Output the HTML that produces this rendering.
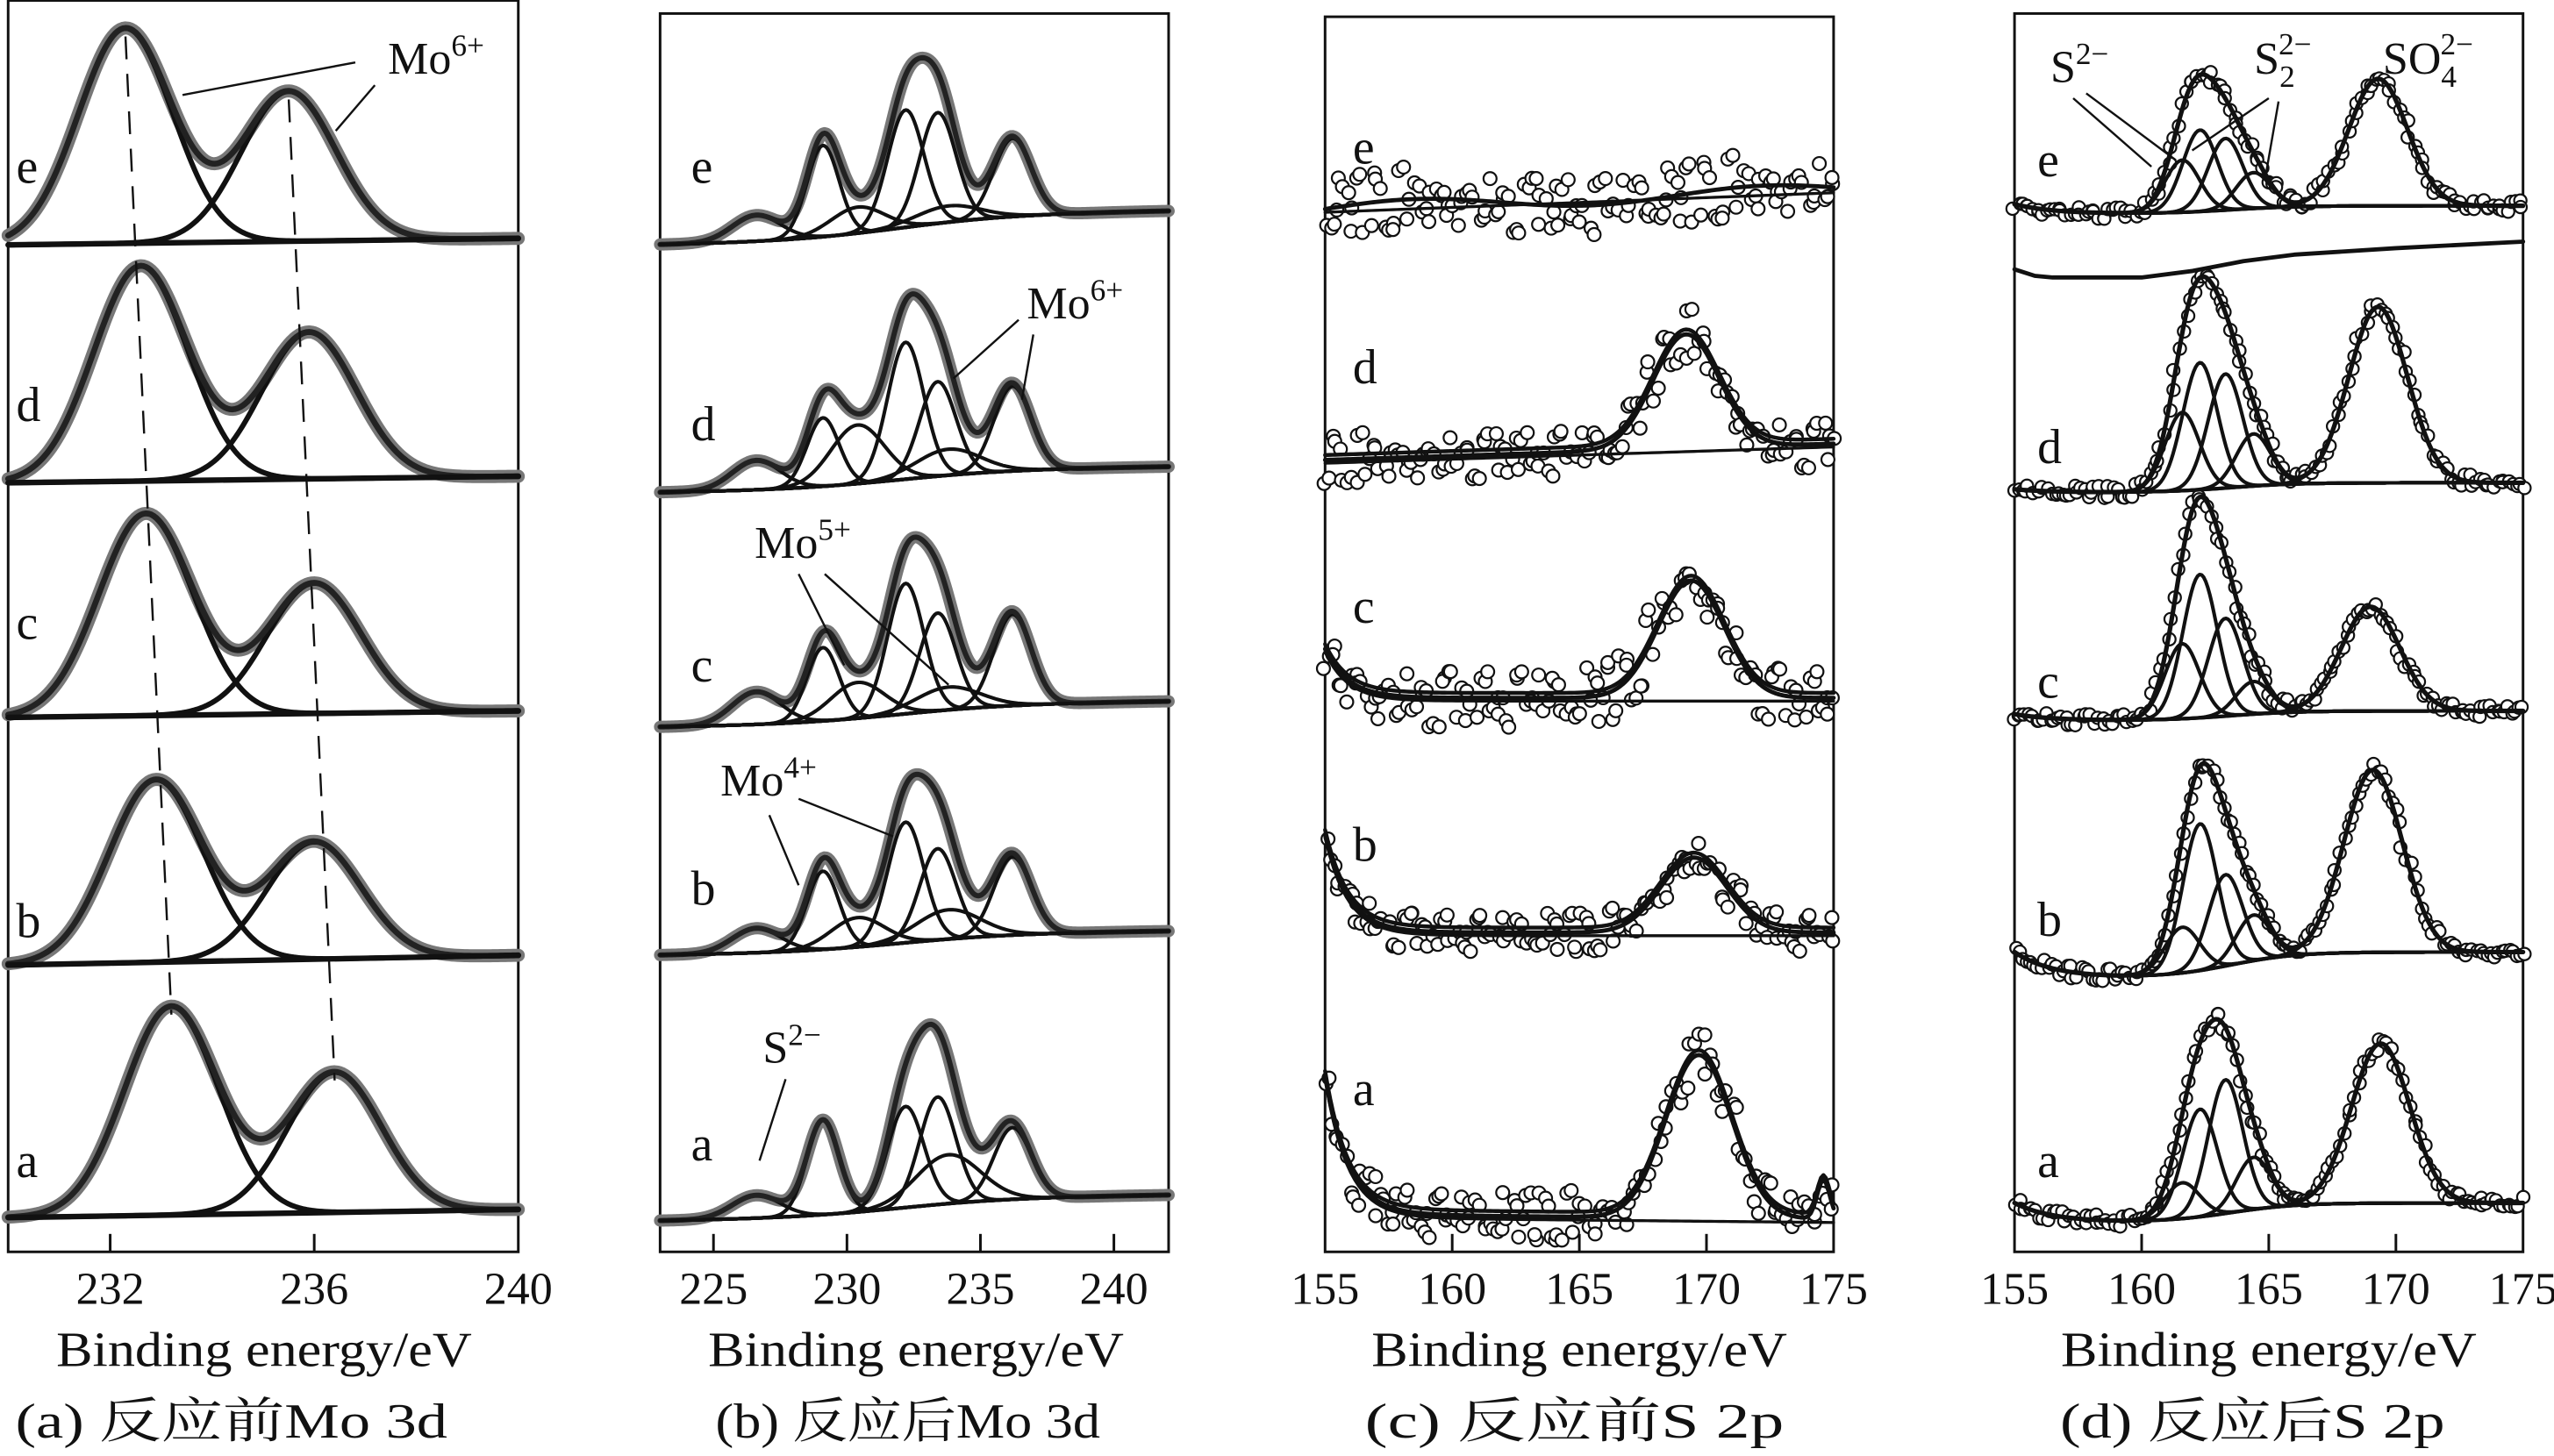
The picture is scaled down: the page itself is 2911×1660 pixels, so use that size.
<!DOCTYPE html>
<html><head><meta charset="utf-8">
<style>
html,body{margin:0;padding:0;background:#fff;}
svg{display:block;}
text{font-family:"Liberation Serif","Noto Serif CJK SC",serif;fill:#111;}
</style></head>
<body>
<svg id="fig" xmlns="http://www.w3.org/2000/svg" width="2911" height="1660" viewBox="0 0 1567 893"></svg>
<script>
// ---------- data ----------
const rowLabels = ['a','b','c','d','e'];
// Panel (a) Mo 3d before reaction
const aPeak1Pos = [233.2, 232.9, 232.7, 232.6, 232.3];
const aPeak2Pos = [236.4, 236.0, 236.0, 235.9, 235.5];
const aPeak1H = [128, 112, 124, 132, 132];
const aPeak2H = [86, 72, 80, 90, 92];
const aBaseL = [747, 592, 440, 296, 150];
const aBaseR = [742, 586, 436, 292, 146];
const aTicks = [232, 236, 240];
// Panel (b) Mo 3d after reaction
const bCenters = [226.6, 229.1, 230.4, 232.2, 233.4, 233.8, 236.2];
const bSigmas = [0.9, 0.6, 1.0, 0.68, 0.68, 1.2, 0.7];
const bHeightsA = [14, 58, 0, 62, 66, 30, 44];
const bHeightsB = [15, 48, 18, 74, 56, 18, 48];
const bHeightsC = [20, 45, 22, 80, 60, 14, 56];
const bHeightsD = [18, 42, 36, 84, 58, 16, 52];
const bHeightsE = [16, 56, 16, 72, 68, 10, 48];
const bBaseL = [749, 586, 446, 302, 150];
const bBaseR = [733, 571, 430, 286, 129];
const bTicks = [225, 230, 235, 240];
// Panel (c) S 2p before reaction
const cPeakPos = [169.7, 169.5, 169.4, 169.2, 165.0];
const cPeakH = [100, 46, 72, 70, 0];
const cBase = [745, 572, 428, 282, 128];
const cTilt = [3, 0, 0, -10, -12];
const cLeftRise = [85, 60, 30, 0, 0];
const cNoiseAmp = [16, 13, 20, 16, 20];
const cSmallPeakH = [24, 0, 0, 0, 0];
const noise = [0.3,-0.8,0.5,0.1,-0.4,0.9,-0.2,-0.7,0.6,0.0,-0.5,0.8,-0.9,0.2,0.4,-0.3,0.7,-0.6,0.1,-1.0,0.5,0.3,-0.2,0.9,-0.4,-0.8,0.6,0.2,-0.1,0.7,-0.6,0.4,-0.9,0.0,0.8,-0.3,0.2,-0.7,0.5,0.9,-0.5,0.1,-0.2,0.6,-0.8,0.3,0.7,-0.4,-0.1,0.9,-0.6,0.2,0.5,-0.9,0.4,-0.2,0.8,-0.5,0.0,0.6,-0.7,0.3,-0.3,0.9,-0.8,0.1,0.5,-0.4,0.7,-0.1,-0.6,0.4,0.2,-0.9,0.8,-0.2,0.6,-0.5,0.3,-0.7,0.1,0.9,-0.3,0.5,-0.8,0.0,0.4,-0.6,0.7,-0.1];
const cTicks = [155, 160, 165, 170, 175];
// Panel (d) S 2p after reaction
const dCenters = [161.6, 162.3, 163.3, 164.4];
const dHeightsA = [22, 66, 82, 32];
const dHeightsB = [28, 90, 56, 28];
const dHeightsC = [46, 88, 60, 20];
const dHeightsD = [48, 78, 70, 32];
const dHeightsE = [32, 50, 44, 22];
const dSO4Pos = [169.4, 169.1, 169.0, 169.3, 169.3];
const dSO4H = [98, 112, 64, 108, 78];
const dBase = [750, 600, 442, 302, 131];
const dStep = [-12, -16, -6, -6, -5];
const dLeftRise = [12, 16, 4, 2, 6];
const dStrayE = [155, 155.8, 156.5, 160, 162, 164, 166, 170, 175];
const dStrayY = [165, 169, 170, 170, 166, 160, 156, 152, 148];
const dTicks = [155, 160, 165, 170, 175];

// ---------- helpers ----------
const svg = document.getElementById('fig');
const NS = 'http://www.w3.org/2000/svg';
function mk(tag, attrs, parent) {
  const el = document.createElementNS(NS, tag);
  for (const k in attrs) el.setAttribute(k, attrs[k]);
  (parent || svg).appendChild(el);
  return el;
}
function gauss(x, c, h, s) { return h * Math.exp(-(x - c) * (x - c) / (2 * s * s)); }
const panels = [
  {x0: 5, x1: 318, y0: 0, y1: 768, d0: 230, d1: 240},
  {x0: 405, x1: 717, y0: 8, y1: 768, d0: 223, d1: 242.05},
  {x0: 813, x1: 1125, y0: 10, y1: 768, d0: 155, d1: 175},
  {x0: 1236, x1: 1548, y0: 8, y1: 768, d0: 155, d1: 175}
];
function xs(p, e) { return p.x0 + (e - p.d0) / (p.d1 - p.d0) * (p.x1 - p.x0); }
function yv(base, v) { return base - v; }
function pathFrom(p, fn, n) {
  let d = '';
  for (let i = 0; i <= n; i++) {
    const e = p.d0 + (p.d1 - p.d0) * i / n;
    d += (i ? 'L' : 'M') + xs(p, e).toFixed(2) + ',' + fn(e).toFixed(2);
  }
  return d;
}
function line(g, x1, y1, x2, y2, w) {
  const l = mk('line', {x1: x1, y1: y1, x2: x2, y2: y2, stroke: '#111', 'stroke-width': w || 1.2}, g);
  return l;
}
function drawFrame(p, g, ticks, name) {
  const r = mk('rect', {x: p.x0, y: p.y0, width: p.x1 - p.x0, height: p.y1 - p.y0, fill: 'none', stroke: '#111', 'stroke-width': 1.6}, g);
  
  
  ticks.forEach(t => {
    const x = xs(p, t);
    if (x > p.x0 + 2 && x < p.x1 - 2) {
      const tk = line(g, x, p.y1, x, p.y1 - 11, 1.6);
      
      
    }
    const tl = mk('text', {x: x, y: 800, 'font-size': 28, 'text-anchor': 'middle'}, g);
    tl.textContent = t;
    
    
  });
}
function addText(g, x, y, str, size, name, anchor, len) {
  const t = mk('text', {x: x, y: y, 'font-size': size, 'text-anchor': anchor || 'start'}, g);
  if (len) { t.setAttribute('textLength', len); t.setAttribute('lengthAdjust', 'spacingAndGlyphs'); }
  t.textContent = str;
  
  
  return t;
}
function ion(g, x, y, base, sub, sup, name) {
  const t = mk('text', {x: x, y: y, 'font-size': 28}, g);
  
  
  const a = mk('tspan', {}, t); a.textContent = base;
  if (sub) {
    const s = mk('tspan', {'font-size': 19, dy: 8}, t); s.textContent = sub;
    const u = mk('tspan', {'font-size': 19, dx: -10, dy: -20}, t); u.textContent = sup;
  } else {
    const u = mk('tspan', {'font-size': 19, dy: -11}, t); u.textContent = sup;
  }
}
function curve(g, d, w, color, name) {
  const c = mk('path', {d: d, fill: 'none', stroke: color || '#111', 'stroke-width': w, 'stroke-linejoin': 'round', 'stroke-linecap': 'round'}, g);
  
  
  return c;
}
function sig(z) { return 1 / (1 + Math.exp(-z)); }

// ---------- panel a ----------
(function () {
  const p = panels[0];
  const g = mk('g', {});
  
  
  drawFrame(p, g, aTicks, 'panel-a');
  const peak1Pts = [], peak2Pts = [];
  for (let r = 0; r < 5; r++) {
    const bl = e => aBaseL[r] + (aBaseR[r] - aBaseL[r]) * (e - p.d0) / (p.d1 - p.d0);
    const env = e => yv(bl(e), gauss(e, aPeak1Pos[r], aPeak1H[r], 0.92) + gauss(e, aPeak2Pos[r], aPeak2H[r], 0.92));
    curve(g, pathFrom(p, env, 200), 8, '#777', 'envelope-data-' + rowLabels[r]);
    curve(g, pathFrom(p, e => yv(bl(e), gauss(e, aPeak1Pos[r], aPeak1H[r], 0.92)), 200), 3.2, '#111', 'mo-3d52-component-' + rowLabels[r]);
    curve(g, pathFrom(p, e => yv(bl(e), gauss(e, aPeak2Pos[r], aPeak2H[r], 0.92)), 200), 3.2, '#111', 'mo-3d32-component-' + rowLabels[r]);
    curve(g, pathFrom(p, env, 200), 3.6, '#222', 'envelope-fit-' + rowLabels[r]);
    curve(g, pathFrom(p, e => bl(e), 10), 3.4, '#111', 'baseline-' + rowLabels[r]);
    peak1Pts.push([xs(p, aPeak1Pos[r]), bl(aPeak1Pos[r]) - aPeak1H[r]]);
    peak2Pts.push([xs(p, aPeak2Pos[r]), bl(aPeak2Pos[r]) - aPeak2H[r]]);
    const ly = [722, 575, 392, 258, 112][r];
    addText(g, 10, ly, rowLabels[r], 30, 'row-label-' + rowLabels[r]);
  }
  [peak1Pts, peak2Pts].forEach((pts, k) => {
    const d = 'M' + pts[4][0] + ',' + (pts[4][1] + 5) + 'L' + pts[0][0] + ',' + (pts[0][1] + 5);
    const dl = mk('path', {d: d, fill: 'none', stroke: '#111', 'stroke-width': 1.3, 'stroke-dasharray': '14,9'}, g);
    
    
  });
  line(g, 218, 38, 112, 58, 1.3);
  line(g, 230, 52, 206, 80, 1.3);
  ion(g, 238, 45, 'Mo', null, '6+', 'mo6-annotation');
  addText(g, 162, 838, 'Binding energy/eV', 30, 'x-axis-title-a', 'middle', 255);
  addText(g, 142, 882, '(a) 反应前Mo 3d', 30, 'caption-a', 'middle', 265);
})();

// ---------- panel b ----------
(function () {
  const p = panels[1];
  const g = mk('g', {});
  
  
  drawFrame(p, g, bTicks, 'panel-b');
  const H = [bHeightsA, bHeightsB, bHeightsC, bHeightsD, bHeightsE];
  for (let r = 0; r < 5; r++) {
    const bl = e => bBaseL[r] + (bBaseR[r] - bBaseL[r]) * (0.25 * (e - p.d0) / (p.d1 - p.d0) + 0.75 * sig((e - 232) / 2.2));
    const comp = (e, k) => gauss(e, bCenters[k], H[r][k], bSigmas[k]);
    const env = e => { let s = 0; for (let k = 0; k < bCenters.length; k++) s += comp(e, k); return yv(bl(e), s); };
    curve(g, pathFrom(p, env, 300), 7.5, '#777', 'envelope-data-' + rowLabels[r]);
    for (let k = 0; k < bCenters.length; k++) {
      if (H[r][k] <= 0) continue;
      curve(g, pathFrom(p, e => yv(bl(e), comp(e, k)), 300), 2.2, '#111', 'component-' + bCenters[k] + '-' + rowLabels[r]);
    }
    curve(g, pathFrom(p, env, 300), 3.2, '#222', 'envelope-fit-' + rowLabels[r]);
    curve(g, pathFrom(p, e => bl(e), 60), 2.2, '#111', 'baseline-' + rowLabels[r]);
    const ly = [712, 555, 418, 270, 112][r];
    addText(g, 424, ly, rowLabels[r], 30, 'row-label-' + rowLabels[r]);
  }
  line(g, 625, 196, 585, 232, 1.3); line(g, 634, 205, 627, 245, 1.3);
  ion(g, 630, 195, 'Mo', null, '6+', 'mo6-annotation-b');
  line(g, 490, 352, 518, 408, 1.3); line(g, 506, 352, 582, 420, 1.3);
  ion(g, 463, 342, 'Mo', null, '5+', 'mo5-annotation');
  line(g, 472, 500, 490, 543, 1.3); line(g, 490, 490, 548, 513, 1.3);
  ion(g, 442, 488, 'Mo', null, '4+', 'mo4-annotation');
  line(g, 482, 662, 466, 712, 1.3);
  ion(g, 468, 652, 'S', null, '2−', 's2-annotation-b');
  addText(g, 562, 838, 'Binding energy/eV', 30, 'x-axis-title-b', 'middle', 255);
  addText(g, 557, 882, '(b) 反应后Mo 3d', 30, 'caption-b', 'middle', 236);
})();

// ---------- panel c ----------
(function () {
  const p = panels[2];
  const g = mk('g', {});
  
  
  drawFrame(p, g, cTicks, 'panel-c');
  for (let r = 0; r < 5; r++) {
    const bl = e => cBase[r] + cTilt[r] * (e - 155) / 20 - cLeftRise[r] * Math.exp(-(e - 155) / 0.9);
    const fit = e => yv(bl(e), gauss(e, cPeakPos[r], cPeakH[r], 1.3) + gauss(e, 174.6, cSmallPeakH[r], 0.25) + (r === 4 ? 4 * Math.sin((e - 155) / 2.2) : 0));
    const N = 140;
    for (let i = 0; i < N; i++) {
      const e = 155 + 20 * i / (N - 1);
      const n = noise[(i * 7 + r * 13) % noise.length];
      const c = mk('circle', {cx: xs(p, e) + noise[(i * 3 + r * 5) % noise.length] * 2, cy: fit(e) + n * cNoiseAmp[r], r: 4, fill: '#fff', stroke: '#111', 'stroke-width': 1.2}, g);
      
      
    }
    curve(g, pathFrom(p, e => bl(e) + 2, 120), 1.8, '#111', 'baseline-' + rowLabels[r]);
    if (cPeakH[r] > 0) curve(g, pathFrom(p, e => fit(e) - 3, 200), 2.4, '#111', 'fit2-' + rowLabels[r]);
    curve(g, pathFrom(p, fit, 200), 2.6, '#111', 'fit-' + rowLabels[r]);
    const ly = [678, 528, 382, 235, 100][r];
    addText(g, 830, ly, rowLabels[r], 30, 'row-label-' + rowLabels[r]);
  }
  addText(g, 969, 838, 'Binding energy/eV', 30, 'x-axis-title-c', 'middle', 255);
  addText(g, 966, 882, '(c) 反应前S 2p', 30, 'caption-c', 'middle', 257);
})();

// ---------- panel d ----------
(function () {
  const p = panels[3];
  const g = mk('g', {});
  
  
  drawFrame(p, g, dTicks, 'panel-d');
  const H = [dHeightsA, dHeightsB, dHeightsC, dHeightsD, dHeightsE];
  for (let r = 0; r < 5; r++) {
    const bl = e => dBase[r] + dStep[r] * sig((e - 163.5) / 1.3) - dLeftRise[r] * Math.exp(-(e - 155) / 1.5);
    const comp = (e, k) => gauss(e, dCenters[k], H[r][k], 0.68);
    const so4 = e => gauss(e, dSO4Pos[r], dSO4H[r], 1.15);
    const env = e => { let s = so4(e); for (let k = 0; k < 4; k++) s += comp(e, k); return yv(bl(e), s); };
    const N = 140;
    for (let i = 0; i < N; i++) {
      const e = 155 + 20 * i / (N - 1);
      const c = mk('circle', {cx: xs(p, e) + noise[(i * 5 + r * 11) % noise.length] * 1.5, cy: env(e) + noise[(i * 7 + r * 17) % noise.length] * 4, r: 3.8, fill: '#fff', stroke: '#111', 'stroke-width': 1.2}, g);
      
      
    }
    for (let k = 0; k < 4; k++) curve(g, pathFrom(p, e => yv(bl(e), comp(e, k)), 250), 2.2, '#111', 'component-' + dCenters[k] + '-' + rowLabels[r]);
    curve(g, pathFrom(p, e => yv(bl(e), so4(e)), 250), 2.2, '#111', 'so4-component-' + rowLabels[r]);
    curve(g, pathFrom(p, env, 250), 2.8, '#111', 'envelope-fit-' + rowLabels[r]);
    curve(g, pathFrom(p, e => bl(e), 80), 2.2, '#111', 'baseline-' + rowLabels[r]);
    const ly = [722, 574, 428, 284, 108][r];
    addText(g, 1250, ly, rowLabels[r], 30, 'row-label-' + rowLabels[r]);
  }
  let d = '';
  dStrayE.forEach((e, i) => { d += (i ? 'L' : 'M') + xs(p, e) + ',' + dStrayY[i]; });
  curve(g, d, 2.6, '#111', 'stray-background-line');
  line(g, 1272, 60, 1320, 102, 1.3); line(g, 1280, 57, 1335, 98, 1.3);
  ion(g, 1258, 50, 'S', null, '2−', 's2-annotation-d');
  line(g, 1392, 60, 1345, 92, 1.3); line(g, 1398, 62, 1390, 108, 1.3);
  ion(g, 1383, 45, 'S', '2', '2−', 's22-annotation');
  ion(g, 1462, 45, 'SO', '4', '2−', 'so4-annotation');
  addText(g, 1392, 838, 'Binding energy/eV', 30, 'x-axis-title-d', 'middle', 255);
  addText(g, 1382, 882, '(d) 反应后S 2p', 30, 'caption-d', 'middle', 236);
})();
</script>
</body></html>
